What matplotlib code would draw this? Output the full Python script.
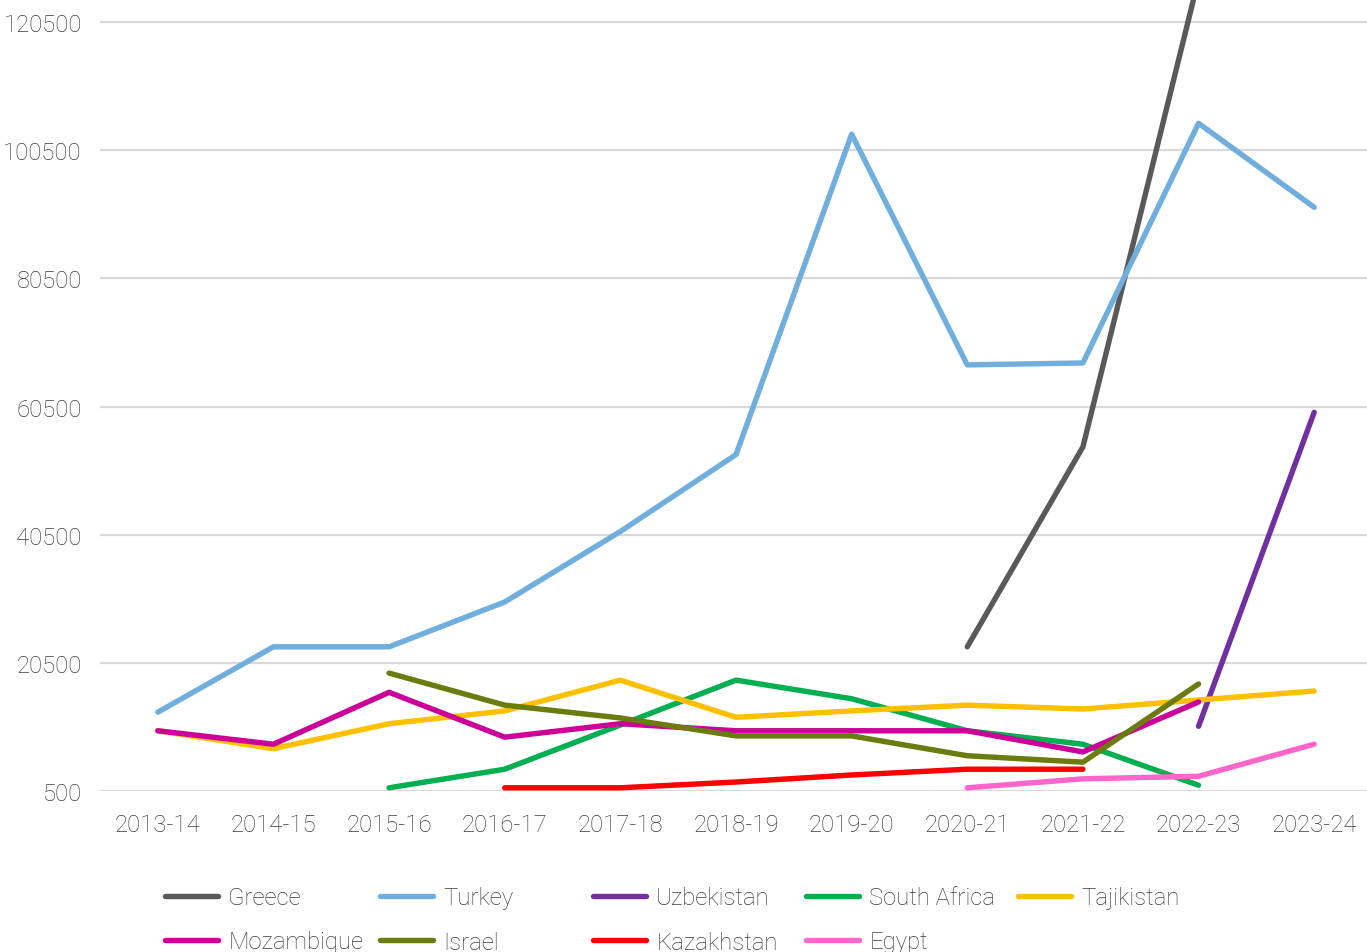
import matplotlib
matplotlib.use('Agg')
import matplotlib.pyplot as plt
import numpy as np

plt.rcParams['font.family'] = ['Roboto', 'DejaVu Sans']

years = ['2013-14', '2014-15', '2015-16', '2016-17', '2017-18', '2018-19',
         '2019-20', '2020-21', '2021-22', '2022-23', '2023-24']
nan = np.nan

greece = [nan, nan, nan, nan, nan, nan, nan, 23000, 54200, 127200, nan]
turkey = [12800, 23000, 23000, 30000, 41000, 53000, 103000, 67000, 67300, 104700, 91600]
uzbekistan = [nan, nan, nan, nan, nan, nan, nan, nan, nan, 10600, 59600]
south_africa = [nan, nan, 1000, 3900, 10800, 17800, 14900, 9900, 7800, 1400, nan]
tajikistan = [9900, 7100, 11000, 13000, 17800, 12000, 13000, 13900, 13300, 14700, 16100]
mozambique = [9900, 7800, 15900, 8900, 11000, 9900, 9900, 9900, 6600, 14400, nan]
israel = [nan, nan, 18900, 13900, 11900, 9100, 9100, 6000, 5000, 17200, nan]
kazakhstan = [nan, nan, nan, 1000, 1000, 1900, 3000, 3900, 3900, nan, nan]
egypt = [nan, nan, nan, nan, nan, nan, nan, 1000, 2400, 2800, 7800]

series = [
    ('Greece', greece, '#595959'),
    ('Turkey', turkey, '#70AEDE'),
    ('Uzbekistan', uzbekistan, '#7030A0'),
    ('South Africa', south_africa, '#00B050'),
    ('Tajikistan', tajikistan, '#FFC000'),
    ('Mozambique', mozambique, '#CC0099'),
    ('Israel', israel, '#6B7B0E'),
    ('Kazakhstan', kazakhstan, '#FF0000'),
    ('Egypt', egypt, '#FF66CC'),
]

yticks = [500, 20500, 40500, 60500, 80500, 100500, 120500]
grey = '#3c3c3c'
fsize = 17.2

fig = plt.figure(figsize=(13.67, 9.53), dpi=100)
ax = fig.add_axes([100 / 1367, 161 / 953, 1272 / 1367, 792 / 953])

x = np.arange(len(years))
handles = []
for name, vals, col in series:
    ln, = ax.plot(x, vals, color=col, lw=3.9, label=name, clip_on=False,
                  solid_capstyle='round', solid_joinstyle='round')
    handles.append(ln)

ax.set_xlim(-0.5, 10.5)
ax.set_ylim(500, 124100)
ax.set_yticks(yticks)
ax.set_yticklabels([str(v) for v in yticks])
ax.set_xticks(x)
ax.set_xticklabels(years)
ax.tick_params(axis='both', length=0, labelsize=fsize, labelcolor=grey)
ax.tick_params(axis='x', pad=16)
ax.tick_params(axis='y', pad=13)
for lab in ax.get_xticklabels() + ax.get_yticklabels():
    lab.set_fontweight('light')
ax.grid(axis='y', color='#d9d9d9', lw=1.6)
ax.set_axisbelow(True)
for s in ax.spines.values():
    s.set_visible(False)

# legend: five fixed-width columns, two rows
col_x = [165, 380, 593, 806, 1018]
for i, cx in enumerate(col_x):
    hs = [handles[i]] + ([handles[i + 5]] if i + 5 < len(handles) else [])
    leg = fig.legend(handles=hs, loc='upper left',
                     bbox_to_anchor=(cx / 1367, 1 - 887 / 953),
                     frameon=False, borderpad=0, borderaxespad=0,
                     handlelength=2.2, handletextpad=0.45, labelspacing=0.9,
                     prop={'size': fsize, 'weight': 'light'})
    for t in leg.get_texts():
        t.set_color(grey)

fig.savefig('out.png', dpi=100)
